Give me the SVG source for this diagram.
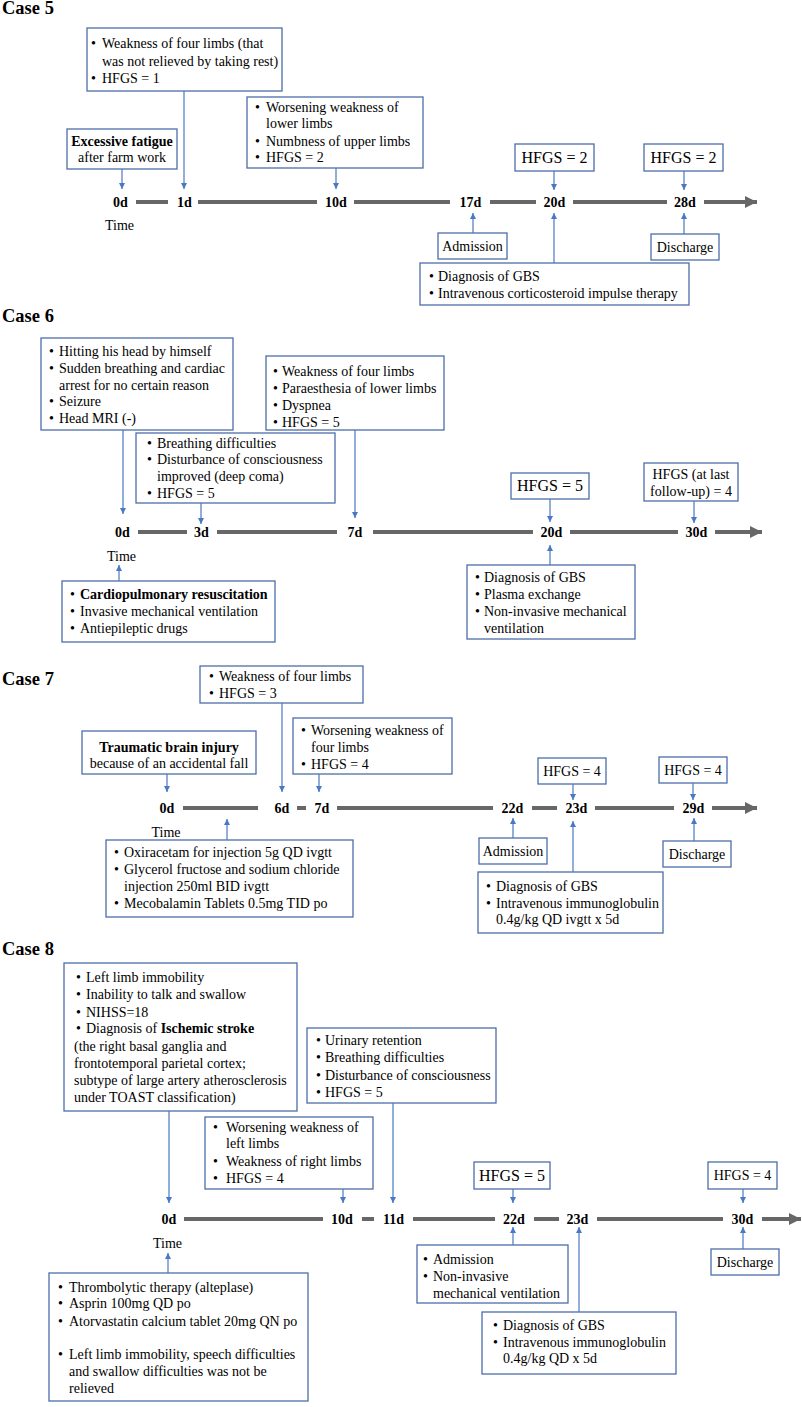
<svg xmlns="http://www.w3.org/2000/svg" width="802" height="1407" viewBox="0 0 802 1407">
<defs>
<style>
.bx{fill:#fff;stroke:#4d6ea8;stroke-width:1.3}
text{font-family:"Liberation Serif","Times New Roman",serif;font-size:14px;fill:#000}
.ttl{font-size:18.5px;font-weight:bold}
.b{font-weight:bold}
.c{text-anchor:middle}
.d{font-weight:bold;text-anchor:middle}
.big{font-size:16px}
.tl{stroke:#676767;stroke-width:4;fill:none}
.tla{stroke:#676767;stroke-width:4;fill:none;marker-end:url(#tah)}
.cn{stroke:#4a78c2;stroke-width:1.2;fill:none;marker-end:url(#ah)}
</style>
<marker id="ah" markerUnits="userSpaceOnUse" markerWidth="6" markerHeight="6" refX="6" refY="3" orient="auto"><path d="M0,0 L6,3 L0,6 z" fill="#4a78c2"/></marker>
<marker id="tah" markerUnits="userSpaceOnUse" markerWidth="12" markerHeight="12" refX="12" refY="6" orient="auto"><path d="M0,0 L12,6 L0,12 z" fill="#676767"/></marker>
</defs>
<rect width="802" height="1407" fill="#fff"/>

<!-- ===== Case 5 ===== -->
<text class="ttl" x="2" y="14">Case 5</text>
<g id="c5-timeline">
<line class="tl" x1="136" y1="202" x2="168" y2="202"/>
<line class="tl" x1="198" y1="202" x2="317" y2="202"/>
<line class="tl" x1="354" y1="202" x2="450" y2="202"/>
<line class="tl" x1="490" y1="202" x2="536" y2="202"/>
<line class="tl" x1="573" y1="202" x2="667" y2="202"/>
<line class="tla" x1="704" y1="202" x2="757" y2="202"/>
<text class="d" x="120.5" y="207">0d</text>
<text class="d" x="184.5" y="207">1d</text>
<text class="d" x="336" y="207">10d</text>
<text class="d" x="470.5" y="207">17d</text>
<text class="d" x="554.5" y="207">20d</text>
<text class="d" x="685" y="207">28d</text>
<text class="c" x="119.5" y="230">Time</text>
</g>
<g id="c5-fatigue"><rect class="bx" x="67" y="129" width="110" height="40"/>
<text class="c b" x="122" y="146">Excessive fatigue</text><text class="c" x="122" y="162">after farm work</text></g>
<g id="c5-1d"><rect class="bx" x="87" y="28" width="195" height="63"/>
<text x="91" y="48">•</text><text x="102" y="48">Weakness of four limbs (that</text>
<text x="102" y="66">was not relieved by taking rest)</text>
<text x="91" y="83">•</text><text x="102" y="83">HFGS = 1</text></g>
<g id="c5-10d"><rect class="bx" x="247" y="97" width="176" height="71"/>
<text x="255" y="111.5">•</text><text x="266" y="111.5">Worsening weakness of</text>
<text x="266" y="128">lower limbs</text>
<text x="255" y="145.5">•</text><text x="266" y="145.5">Numbness of upper limbs</text>
<text x="255" y="162">•</text><text x="266" y="162">HFGS = 2</text></g>
<g id="c5-hfgs20"><rect class="bx" x="515" y="144" width="79" height="27"/><text class="c big" x="554.5" y="163">HFGS = 2</text></g>
<g id="c5-hfgs28"><rect class="bx" x="644" y="144" width="79" height="27"/><text class="c big" x="683.5" y="163">HFGS = 2</text></g>
<g id="c5-adm"><rect class="bx" x="438" y="233" width="69" height="26"/><text class="c" x="472.5" y="251">Admission</text></g>
<g id="c5-dis"><rect class="bx" x="651" y="234" width="68" height="26"/><text class="c" x="685" y="252">Discharge</text></g>
<g id="c5-diag"><rect class="bx" x="420" y="263" width="269" height="42"/>
<text x="429" y="281">•</text><text x="438" y="281">Diagnosis of GBS</text>
<text x="429" y="298">•</text><text x="438" y="298">Intravenous corticosteroid impulse therapy</text></g>
<g id="c5-connectors">
<line class="cn" x1="122" y1="169" x2="122" y2="189"/>
<line class="cn" x1="184" y1="91" x2="184" y2="189"/>
<line class="cn" x1="336" y1="168" x2="336" y2="189"/>
<line class="cn" x1="554" y1="171" x2="554" y2="190"/>
<line class="cn" x1="684" y1="171" x2="684" y2="190"/>
<line class="cn" x1="473" y1="233" x2="473" y2="213"/>
<line class="cn" x1="554" y1="263" x2="554" y2="213"/>
<line class="cn" x1="684" y1="234" x2="684" y2="213"/>
</g>

<!-- ===== Case 6 ===== -->
<text class="ttl" x="2" y="322">Case 6</text>
<g id="c6-timeline">
<line class="tl" x1="138" y1="532" x2="187" y2="532"/>
<line class="tl" x1="217" y1="532" x2="337" y2="532"/>
<line class="tl" x1="373" y1="532" x2="533" y2="532"/>
<line class="tl" x1="570" y1="532" x2="678" y2="532"/>
<line class="tla" x1="715" y1="532" x2="762" y2="532"/>
<text class="d" x="122.5" y="537">0d</text>
<text class="d" x="201.5" y="537">3d</text>
<text class="d" x="355" y="537">7d</text>
<text class="d" x="551.5" y="537">20d</text>
<text class="d" x="696.5" y="537">30d</text>
<text class="c" x="121.5" y="561">Time</text>
</g>
<g id="c6-0d"><rect class="bx" x="41" y="338" width="192" height="92"/>
<text x="49" y="356">•</text><text x="59" y="356">Hitting his head by himself</text>
<text x="49" y="373">•</text><text x="59" y="373">Sudden breathing and cardiac</text>
<text x="59" y="390">arrest for no certain reason</text>
<text x="49" y="406">•</text><text x="59" y="406">Seizure</text>
<text x="49" y="423">•</text><text x="59" y="423">Head MRI (-)</text></g>
<g id="c6-3d"><rect class="bx" x="136" y="433" width="199" height="70"/>
<text x="147" y="448">•</text><text x="157" y="448">Breathing difficulties</text>
<text x="147" y="464">•</text><text x="157" y="464">Disturbance of consciousness</text>
<text x="157" y="481">improved (deep coma)</text>
<text x="147" y="498">•</text><text x="157" y="498">HFGS = 5</text></g>
<g id="c6-7d"><rect class="bx" x="266" y="356" width="178" height="74"/>
<text x="273" y="376">•</text><text x="282" y="376">Weakness of four limbs</text>
<text x="273" y="393">•</text><text x="282" y="393">Paraesthesia of lower limbs</text>
<text x="273" y="410">•</text><text x="282" y="410">Dyspnea</text>
<text x="273" y="427">•</text><text x="282" y="427">HFGS = 5</text></g>
<g id="c6-hfgs20"><rect class="bx" x="511" y="473" width="78" height="26"/><text class="c big" x="550" y="491">HFGS = 5</text></g>
<g id="c6-hfgs30"><rect class="bx" x="644" y="463" width="94" height="38"/>
<text class="c" x="691" y="479">HFGS (at last</text><text class="c" x="691" y="496">follow-up) = 4</text></g>
<g id="c6-cpr"><rect class="bx" x="62" y="581" width="213" height="61"/>
<text x="70" y="599">•</text><text class="b" x="80" y="599">Cardiopulmonary resuscitation</text>
<text x="70" y="616">•</text><text x="80" y="616">Invasive mechanical ventilation</text>
<text x="70" y="633">•</text><text x="80" y="633">Antiepileptic drugs</text></g>
<g id="c6-diag"><rect class="bx" x="467" y="565" width="168" height="74"/>
<text x="475" y="582">•</text><text x="484" y="582">Diagnosis of GBS</text>
<text x="475" y="599">•</text><text x="484" y="599">Plasma exchange</text>
<text x="475" y="616">•</text><text x="484" y="616">Non-invasive mechanical</text>
<text x="484" y="633">ventilation</text></g>
<g id="c6-connectors">
<line class="cn" x1="123" y1="430" x2="123" y2="514"/>
<line class="cn" x1="201" y1="503" x2="201" y2="524"/>
<line class="cn" x1="355" y1="430" x2="355" y2="518"/>
<line class="cn" x1="550" y1="499" x2="550" y2="522"/>
<line class="cn" x1="694" y1="501" x2="694" y2="523"/>
<line class="cn" x1="119" y1="581" x2="119" y2="565"/>
<line class="cn" x1="550" y1="565" x2="550" y2="545"/>
</g>

<!-- ===== Case 7 ===== -->
<text class="ttl" x="2" y="685">Case 7</text>
<g id="c7-timeline">
<line class="tl" x1="183" y1="808" x2="258" y2="808"/>
<line class="tl" x1="297" y1="808" x2="306" y2="808"/>
<line class="tl" x1="337" y1="808" x2="493" y2="808"/>
<line class="tl" x1="532" y1="808" x2="557" y2="808"/>
<line class="tl" x1="595" y1="808" x2="674" y2="808"/>
<line class="tla" x1="712" y1="808" x2="757" y2="808"/>
<text class="d" x="167" y="813">0d</text>
<text class="d" x="282" y="813">6d</text>
<text class="d" x="322" y="813">7d</text>
<text class="d" x="512.5" y="813">22d</text>
<text class="d" x="576.5" y="813">23d</text>
<text class="d" x="693.5" y="813">29d</text>
<text class="c" x="166" y="837">Time</text>
</g>
<g id="c7-6d"><rect class="bx" x="200" y="666" width="163" height="37"/>
<text x="209" y="681">•</text><text x="219" y="681">Weakness of four limbs</text>
<text x="209" y="698">•</text><text x="219" y="698">HFGS = 3</text></g>
<g id="c7-tbi"><rect class="bx" x="82" y="731" width="174" height="43"/>
<text class="c b" x="169" y="752">Traumatic brain injury</text><text class="c" x="169" y="768">because of an accidental fall</text></g>
<g id="c7-7d"><rect class="bx" x="293" y="718" width="159" height="56"/>
<text x="301" y="735">•</text><text x="311" y="735">Worsening weakness of</text>
<text x="311" y="752">four limbs</text>
<text x="301" y="769">•</text><text x="311" y="769">HFGS = 4</text></g>
<g id="c7-hfgs23"><rect class="bx" x="538" y="758" width="68" height="26"/><text class="c" x="572" y="776">HFGS = 4</text></g>
<g id="c7-hfgs29"><rect class="bx" x="659" y="757" width="68" height="26"/><text class="c" x="693" y="775">HFGS = 4</text></g>
<g id="c7-adm"><rect class="bx" x="479" y="838" width="68" height="26"/><text class="c" x="513" y="856">Admission</text></g>
<g id="c7-dis"><rect class="bx" x="663" y="841" width="68" height="26"/><text class="c" x="697" y="859">Discharge</text></g>
<g id="c7-drugs"><rect class="bx" x="106" y="840" width="247" height="77"/>
<text x="114" y="857">•</text><text x="124" y="857">Oxiracetam for injection 5g QD ivgtt</text>
<text x="114" y="874">•</text><text x="124" y="874">Glycerol fructose and sodium chloride</text>
<text x="124" y="891">injection 250ml BID ivgtt</text>
<text x="114" y="908">•</text><text x="124" y="908">Mecobalamin Tablets 0.5mg TID po</text></g>
<g id="c7-diag"><rect class="bx" x="478" y="872" width="185" height="61"/>
<text x="486" y="891">•</text><text x="496" y="891">Diagnosis of GBS</text>
<text x="486" y="908">•</text><text x="496" y="908">Intravenous immunoglobulin</text>
<text x="496" y="924">0.4g/kg QD ivgtt x 5d</text></g>
<g id="c7-connectors">
<line class="cn" x1="282" y1="703" x2="282" y2="792"/>
<line class="cn" x1="167" y1="774" x2="167" y2="792"/>
<line class="cn" x1="319" y1="774" x2="319" y2="792"/>
<line class="cn" x1="573" y1="784" x2="573" y2="800"/>
<line class="cn" x1="693" y1="783" x2="693" y2="800"/>
<line class="cn" x1="227" y1="840" x2="227" y2="819"/>
<line class="cn" x1="513" y1="838" x2="513" y2="818"/>
<line class="cn" x1="573" y1="872" x2="573" y2="821"/>
<line class="cn" x1="694" y1="841" x2="694" y2="818"/>
</g>

<!-- ===== Case 8 ===== -->
<text class="ttl" x="2" y="955">Case 8</text>
<g id="c8-timeline">
<line class="tl" x1="184" y1="1219" x2="323" y2="1219"/>
<line class="tl" x1="362" y1="1219" x2="374" y2="1219"/>
<line class="tl" x1="413" y1="1219" x2="495" y2="1219"/>
<line class="tl" x1="534" y1="1219" x2="559" y2="1219"/>
<line class="tl" x1="597" y1="1219" x2="723" y2="1219"/>
<line class="tla" x1="762" y1="1219" x2="801" y2="1219"/>
<text class="d" x="169" y="1224">0d</text>
<text class="d" x="342" y="1224">10d</text>
<text class="d" x="393.5" y="1224">11d</text>
<text class="d" x="514" y="1224">22d</text>
<text class="d" x="577.5" y="1224">23d</text>
<text class="d" x="742.5" y="1224">30d</text>
<text class="c" x="167.5" y="1248">Time</text>
</g>
<g id="c8-0d"><rect class="bx" x="64" y="963" width="233" height="148"/>
<text x="76" y="982">•</text><text x="86" y="982">Left limb immobility</text>
<text x="76" y="999">•</text><text x="86" y="999">Inability to talk and swallow</text>
<text x="76" y="1017">•</text><text x="86" y="1017">NIHSS=18</text>
<text x="76" y="1033">•</text><text x="86" y="1033">Diagnosis of <tspan class="b">Ischemic stroke</tspan></text>
<text x="74" y="1051">(the right basal ganglia and</text>
<text x="74" y="1068">frontotemporal parietal cortex;</text>
<text x="74" y="1085">subtype of large artery atherosclerosis</text>
<text x="74" y="1102">under TOAST classification)</text></g>
<g id="c8-11d"><rect class="bx" x="307" y="1028" width="189" height="75"/>
<text x="316" y="1045">•</text><text x="325" y="1045">Urinary retention</text>
<text x="316" y="1062">•</text><text x="325" y="1062">Breathing difficulties</text>
<text x="316" y="1080">•</text><text x="325" y="1080">Disturbance of consciousness</text>
<text x="316" y="1097">•</text><text x="325" y="1097">HFGS = 5</text></g>
<g id="c8-10d"><rect class="bx" x="205" y="1117" width="168" height="72"/>
<text x="213" y="1132">•</text><text x="226" y="1132">Worsening weakness of</text>
<text x="226" y="1148">left limbs</text>
<text x="213" y="1166">•</text><text x="226" y="1166">Weakness of right limbs</text>
<text x="213" y="1183">•</text><text x="226" y="1183">HFGS = 4</text></g>
<g id="c8-hfgs22"><rect class="bx" x="474" y="1162" width="76" height="27"/><text class="c big" x="512" y="1181">HFGS = 5</text></g>
<g id="c8-hfgs30"><rect class="bx" x="708" y="1162" width="69" height="27"/><text class="c" x="742.5" y="1180">HFGS = 4</text></g>
<g id="c8-therapy"><rect class="bx" x="49" y="1273" width="259" height="128"/>
<text x="58" y="1292">•</text><text x="69" y="1292">Thrombolytic therapy (alteplase)</text>
<text x="58" y="1308">•</text><text x="69" y="1308">Asprin 100mg QD po</text>
<text x="58" y="1326">•</text><text x="69" y="1326">Atorvastatin calcium tablet 20mg QN po</text>
<text x="58" y="1359">•</text><text x="69" y="1359">Left limb immobility, speech difficulties</text>
<text x="69" y="1376">and swallow difficulties was not be</text>
<text x="69" y="1393">relieved</text></g>
<g id="c8-adm"><rect class="bx" x="417" y="1245" width="151" height="58"/>
<text x="423" y="1264">•</text><text x="433" y="1264">Admission</text>
<text x="423" y="1281">•</text><text x="433" y="1281">Non-invasive</text>
<text x="433" y="1298">mechanical ventilation</text></g>
<g id="c8-diag"><rect class="bx" x="482" y="1312" width="194" height="62"/>
<text x="493" y="1330">•</text><text x="503" y="1330">Diagnosis of GBS</text>
<text x="493" y="1347">•</text><text x="503" y="1347">Intravenous immunoglobulin</text>
<text x="503" y="1363">0.4g/kg QD x 5d</text></g>
<g id="c8-dis"><rect class="bx" x="711" y="1249" width="68" height="26"/><text class="c" x="745" y="1267">Discharge</text></g>
<g id="c8-connectors">
<line class="cn" x1="169" y1="1111" x2="169" y2="1203"/>
<line class="cn" x1="393" y1="1103" x2="393" y2="1203"/>
<line class="cn" x1="343" y1="1189" x2="343" y2="1203"/>
<line class="cn" x1="513" y1="1189" x2="513" y2="1203"/>
<line class="cn" x1="743" y1="1189" x2="743" y2="1203"/>
<line class="cn" x1="168" y1="1273" x2="168" y2="1253"/>
<line class="cn" x1="513" y1="1245" x2="513" y2="1227"/>
<line class="cn" x1="579" y1="1312" x2="579" y2="1227"/>
<line class="cn" x1="743" y1="1249" x2="743" y2="1227"/>
</g>
</svg>
